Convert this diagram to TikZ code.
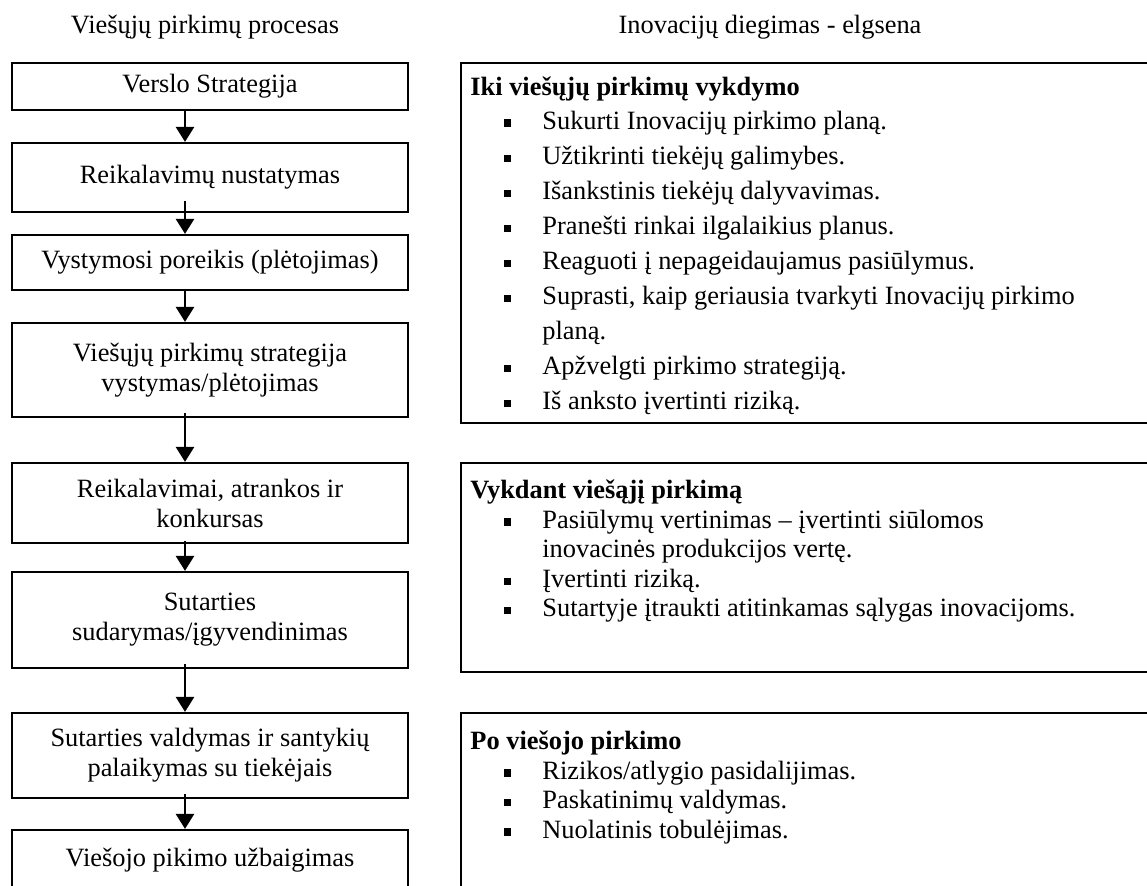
\documentclass[tikz,border=0pt]{standalone}
\usepackage{fontspec}
\setmainfont{Liberation Serif}
\usetikzlibrary{arrows.meta}
\newcommand{\bul}{\llap{\rule[1.2pt]{3.6pt}{3.6pt}\hspace{15.5pt}}}

\begin{document}
\begin{tikzpicture}[x=0.5pt,y=-0.5pt, line join=miter,
    font=\fontsize{13.2}{15}\selectfont,
    lbox/.style={draw, line width=1.1pt, minimum width=198pt, align=center, inner sep=0pt},
    rbox/.style={draw, line width=1.2pt, minimum width=349.5pt, inner sep=0pt},
    txt/.style={anchor=base west, inner sep=0pt},
    arr/.style={-{Triangle[width=9pt,length=7.5pt]}, line width=1.3pt}]
  \useasboundingbox (0,0) rectangle (1147,885);
  \clip (0,0) rectangle (1147,885);
  % titles
  \node[anchor=base] (t1) at (205,33) {Viešųjų pirkimų procesas};
  \node[anchor=base] (t2) at (770,33) {Inovacijų diegimas - elgsena};
  % process
  \node[lbox, minimum height=23.5pt] (p1) at (210,86.5) {Verslo Strategija};
  \node[lbox, minimum height=34.5pt] (p2) at (210,177.5) {Reikalavimų nustatymas};
  \node[lbox, minimum height=27.5pt] (p3) at (210,262.5) {Vystymosi poreikis (plėtojimas)};
  \node[lbox, minimum height=47pt] (p4) at (210,370) {Viešųjų pirkimų strategija\\vystymas/plėtojimas};
  \node[lbox, minimum height=40pt] (p5) at (210,503) {Reikalavimai, atrankos ir\\konkursas};
  \node[lbox, minimum height=48pt] (p6) at (210,620) {Sutarties\\sudarymas/įgyvendinimas};
  \node[lbox, minimum height=42.5pt] (p7) at (210,755.5) {Sutarties valdymas ir santykių\\palaikymas su tiekėjais};
  \node[lbox, minimum height=30pt] (p8) at (210,860) {Viešojo pikimo užbaigimas};
  \foreach \a/\b/\s in {p1/p2/0, p2/p3/6, p3/p4/0, p4/p5/2.5, p5/p6/1.5, p6/p7/2.5, p7/p8/2.5}
    \draw[arr] ([xshift=-12.5pt,yshift=\s pt]\a.south) -- ([xshift=-12.5pt]\b.north);
  % behaviour
  \node[rbox, minimum height=180pt] (e1) at (810.5,243) {};
  \node[rbox, minimum height=104.5pt] (e2) at (810.5,567.5) {};
  \node[rbox, minimum height=93.5pt] (e3) at (810.5,806.5) {};
  \node[txt] (h1) at (470,95) {\textbf{Iki viešųjų pirkimų vykdymo}};
  \foreach \t [count=\i from 0] in {\bul Sukurti Inovacijų pirkimo planą., \bul Užtikrinti tiekėjų galimybes.,
      \bul Išankstinis tiekėjų dalyvavimas., \bul Pranešti rinkai ilgalaikius planus.,
      \bul Reaguoti į nepageidaujamus pasiūlymus., {\bul Suprasti, kaip geriausia tvarkyti Inovacijų pirkimo},
      planą., \bul Apžvelgti pirkimo strategiją., \bul Iš anksto įvertinti riziką.}
    \node[txt] (ia\i) at (542,129+35.1*\i) {\t};
  \node[txt] (h2) at (470,498) {\textbf{Vykdant viešąjį pirkimą}};
  \foreach \t [count=\i from 0] in {\bul Pasiūlymų vertinimas – įvertinti siūlomos, inovacinės produkcijos vertę.,
      \bul Įvertinti riziką., \bul Sutartyje įtraukti atitinkamas sąlygas inovacijoms.}
    \node[txt] (ib\i) at (542,528+29.6*\i) {\t};
  \node[txt] (h3) at (470,749) {\textbf{Po viešojo pirkimo}};
  \foreach \t [count=\i from 0] in {\bul Rizikos/atlygio pasidalijimas., \bul Paskatinimų valdymas.,
      \bul Nuolatinis tobulėjimas.}
    \node[txt] (ic\i) at (542,779+29.5*\i) {\t};
\end{tikzpicture}
\end{document}
